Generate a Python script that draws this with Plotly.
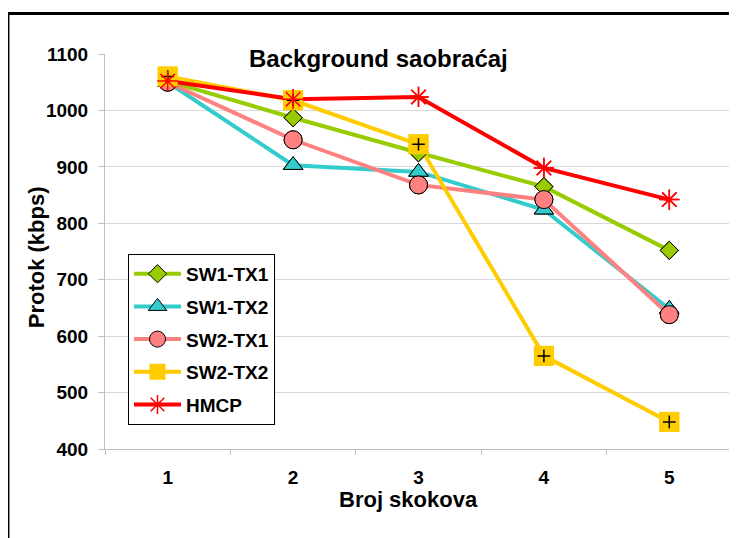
import plotly.graph_objects as go

categories = ["1", "2", "3", "4", "5"]
sw1_tx1 = [1052, 987, 925, 865, 752]
sw1_tx2 = [1050, 903, 891, 824, 648]
sw2_tx1 = [1050, 948, 868, 842, 638]
sw2_tx2 = [1060, 1018, 940, 565, 448]
hmcp = [1052, 1020, 1024, 898, 842]
y_ticks = [400, 500, 600, 700, 800, 900, 1000, 1100]

FONT = "Arial, Liberation Sans, sans-serif"

series = [
    ("SW1-TX1", sw1_tx1, "#99CC00", dict(symbol="diamond", size=14, color="#99CC00", line=dict(color="black", width=1))),
    ("SW1-TX2", sw1_tx2, "#33CCCC", dict(symbol="triangle-up", size=17, color="#33CCCC", line=dict(color="black", width=1))),
    ("SW2-TX1", sw2_tx1, "#FF8080", dict(symbol="circle", size=18, color="#FF8080", line=dict(color="black", width=1))),
    ("SW2-TX2", sw2_tx2, "#FFCC00", dict(symbol="square", size=20, color="#FFCC00", line=dict(color="#FFCC00", width=0))),
    ("HMCP", hmcp, "#FF0000", dict(symbol="asterisk-open", size=17, color="#FF0000", line=dict(color="#FF0000", width=1.5))),
]

fig = go.Figure()
# lines (with legend entries)
for name, vals, col, mk in series:
    fig.add_trace(go.Scatter(
        x=categories, y=vals, name=name, mode="lines+markers",
        line=dict(color=col, width=4), marker=mk,
        legendgroup=name, showlegend=True,
    ))
# markers on top of all lines
for name, vals, col, mk in series:
    fig.add_trace(go.Scatter(
        x=categories, y=vals, mode="markers", marker=mk,
        legendgroup=name, showlegend=False, hoverinfo="skip",
    ))
    if name == "SW2-TX2":
        fig.add_trace(go.Scatter(
            x=categories, y=vals, mode="markers",
            marker=dict(symbol="cross-thin-open", size=9, color="black",
                        line=dict(color="black", width=1.5)),
            legendgroup=name, showlegend=False, hoverinfo="skip",
        ))

# page body has an 8px margin, so the figure is offset by (8, 8)
fig.update_layout(
    width=729, height=530,
    margin=dict(l=97, r=5, t=46, b=89),
    paper_bgcolor="white", plot_bgcolor="white",
    font=dict(family=FONT, size=19, color="black", weight="bold"),
    showlegend=True,
    legend=dict(
        x=0.0367, y=0.494, xanchor="left", yanchor="top",
        bgcolor="white", bordercolor="black", borderwidth=1,
        font=dict(family=FONT, size=19, color="black", weight="bold"),
        tracegroupgap=5, traceorder="grouped", itemwidth=47,
    ),
    xaxis=dict(
        type="category", categoryorder="array", categoryarray=categories,
        range=[-0.5, 4.5], tickson="boundaries", ticks="outside", ticklen=5,
        tickcolor="#bfbfbf", showline=True, linecolor="#bfbfbf", linewidth=1,
        showgrid=False, zeroline=False, ticklabelstandoff=11,
        tickfont=dict(family=FONT, size=19, color="black", weight="bold"),
    ),
    yaxis=dict(
        range=[400, 1100], tickvals=y_ticks, ticks="outside", ticklen=6,
        tickcolor="#bfbfbf", showline=True, linecolor="#bfbfbf", linewidth=1,
        showgrid=True, gridcolor="#d9d9d9", gridwidth=1, zeroline=False,
        ticklabelstandoff=6,
        tickfont=dict(family=FONT, size=19, color="black", weight="bold"),
    ),
    annotations=[
        dict(text="Background saobraćaj", xref="paper", yref="paper",
             x=0.4370, y=0.988, xanchor="center", yanchor="middle",
             showarrow=False, bgcolor="white",
             font=dict(family=FONT, size=24, color="black", weight="bold")),
        dict(text="Broj skokova", xref="paper", yref="paper",
             x=0.4835, y=-0.1267, xanchor="center", yanchor="middle",
             showarrow=False,
             font=dict(family=FONT, size=22, color="black", weight="bold")),
        dict(text="Protok (kbps)", xref="paper", yref="paper",
             x=-0.110, y=0.4854, xanchor="center", yanchor="middle",
             textangle=-90, showarrow=False,
             font=dict(family=FONT, size=22, color="black", weight="bold")),
    ],
    shapes=[
        dict(type="rect", xref="paper", yref="paper",
             x0=-0.1548, x1=1.2, y0=-0.4, y1=1.1027,
             line=dict(color="black", width=3), fillcolor="rgba(0,0,0,0)",
             layer="above"),
    ],
)

fig.write_html("out.html")
